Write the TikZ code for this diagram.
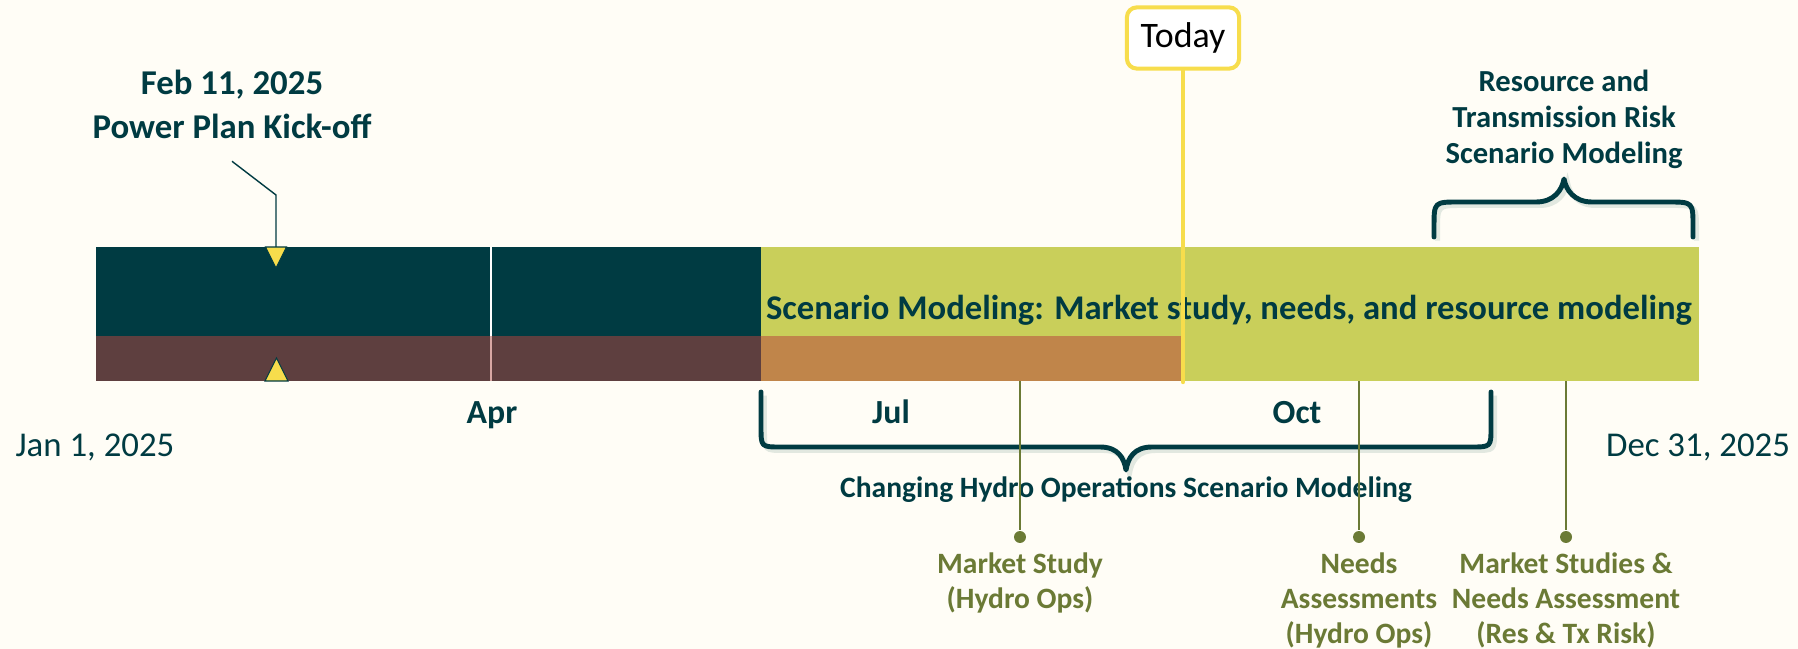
\documentclass[tikz,border=0pt]{standalone}
\usepackage{fontspec}
\setmainfont{Carlito}
\usetikzlibrary{positioning}
\definecolor{bgcream}{HTML}{FFFDF6}
\definecolor{darkteal}{HTML}{003B42}
\definecolor{rowbrown}{HTML}{5E3F3F}
\definecolor{roworange}{HTML}{C0854A}
\definecolor{rowgreen}{HTML}{C9CF5A}
\definecolor{todayyellow}{HTML}{F7DD4C}
\definecolor{msolive}{HTML}{6B7A35}
\definecolor{braceshadow}{HTML}{E2E8E0}
\definecolor{divpink}{HTML}{D8A8A4}
\tikzset{
  kicklabel/.style={font=\bfseries\fontsize{9.9}{12.5}\selectfont, text=darkteal, align=center},
  monthlabel/.style={font=\bfseries\fontsize{9.6}{11}\selectfont, text=darkteal, anchor=base},
  yearend/.style={font=\fontsize{9.9}{11}\selectfont, text=darkteal, anchor=base},
  phaselabel/.style={font=\bfseries\fontsize{8.7}{10.2}\selectfont, text=darkteal, align=center},
  brace/.style={draw=darkteal, line width=1.4pt, line cap=round, line join=round,
    preaction={draw=braceshadow, line width=1.4pt, transform canvas={xshift=1pt,yshift=-1pt}}},
  msdot/.style={circle, fill=msolive, minimum size=3.4pt, inner sep=0pt},
  msline/.style={draw=msolive, line width=0.35pt},
  mslabel/.style={font=\bfseries\fontsize{8.4}{10}\selectfont, text=msolive, align=center},
  kicktri/.style={fill=todayyellow, draw=darkteal, line width=0.3pt},
  todaybox/.style={draw=todayyellow, line width=1.15pt, rounded corners=2.8pt, fill=white,
    minimum width=31.9pt, minimum height=17.4pt, inner sep=0pt, font=\fontsize{10.2}{11}\selectfont},
}
\begin{document}
\begin{tikzpicture}[x=0.01cm,y=-0.01cm]
\useasboundingbox (0,0) rectangle (1798,649);
\fill[bgcream] (0,0) rectangle (1798,649);
\fill[darkteal] (96,247) rectangle (761,336);
\fill[rowbrown] (96,336) rectangle (761,381);
\fill[roworange] (761,336) rectangle (1183,381);
\fill[rowgreen] (761,247) rectangle (1699,336);
\fill[rowgreen] (1183,336) rectangle (1699,381);
\draw[white, line width=0.3pt] (491,247) -- (491,336);
\draw[divpink, line width=0.3pt] (491,336) -- (491,381);
\node[anchor=base, font=\bfseries\fontsize{9.85}{11}\selectfont, text=darkteal] (scen) at (1229,320) {Scenario Modeling: Market study, needs, and resource modeling};
\draw[kicktri] (265.5,247) -- (286.5,247) -- (276,268) -- cycle;
\draw[kicktri] (265,381) -- (288,381) -- (276.5,358) -- cycle;
\coordinate (kick) at (276,247);
\node[kicklabel] (kickoff) at (232,104) {Feb 11, 2025\\Power Plan Kick-off};
\draw[darkteal, line width=0.4pt] ([yshift=-3pt]kickoff.south) -- (276,195) -- (kick);
\node[todaybox] (today) at (1183,38) {Today};
\coordinate (todayend) at (1183,382);
\draw[todayyellow, line width=1.25pt, line cap=round] (today.south) -- (todayend);
\node[monthlabel] (apr) at (492,423) {Apr};
\node[monthlabel] (jul) at (891,423) {Jul};
\node[monthlabel] (oct) at (1297,423) {Oct};
\node[yearend] (jan) at (95,456) {Jan 1, 2025};
\node[yearend] (dec) at (1698,456) {Dec 31, 2025};
\draw[brace] (1434,237) -- (1434,227) .. controls (1434,202) .. (1459,202) -- (1536,202)
  .. controls (1554,202) and (1562,190) .. (1564,179) .. controls (1566,190) and (1574,202) .. (1592,202)
  -- (1668,202) .. controls (1693,202) .. (1693,227) -- (1693,237);
\node[phaselabel] (restx) at (1564,119) {Resource and\\Transmission Risk\\Scenario Modeling};
\draw[brace] (761,392) -- (761,427) .. controls (761,447) .. (781,447) -- (1100,447)
  .. controls (1118,447) and (1124,458) .. (1126,470) .. controls (1128,458) and (1134,447) .. (1152,447)
  -- (1471,447) .. controls (1491,447) .. (1491,427) -- (1491,392);
\node[phaselabel, anchor=base, font=\bfseries\fontsize{8.4}{10}\selectfont] (hydro) at (1126,497) {Changing Hydro Operations Scenario Modeling};
\coordinate (ms1top) at (1020,381);
\coordinate (ms2top) at (1359,381);
\coordinate (ms3top) at (1566,381);
\node[msdot] (ms1) at (1020,537) {};
\node[msdot] (ms2) at (1359,537) {};
\node[msdot] (ms3) at (1566,537) {};
\draw[msline] (ms1top) -- (ms1);
\draw[msline] (ms2top) -- (ms2);
\draw[msline] (ms3top) -- (ms3);
\node[mslabel, below=-1pt of ms1] (ms1lab) {Market Study\\(Hydro Ops)};
\node[mslabel, below=-1pt of ms2] (ms2lab) {Needs\\Assessments\\(Hydro Ops)};
\node[mslabel, below=-1pt of ms3] (ms3lab) {Market Studies \&\\Needs Assessment\\(Res \& Tx Risk)};
\end{tikzpicture}
\end{document}
